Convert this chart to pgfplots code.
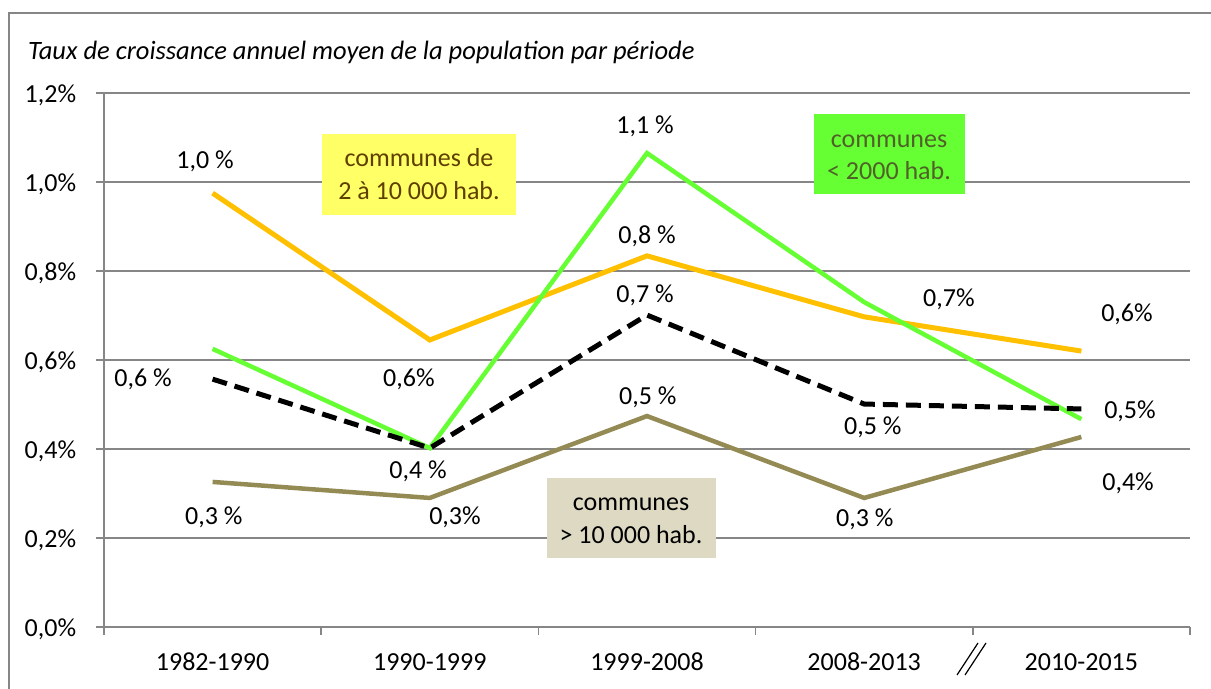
\documentclass[border=0pt]{standalone}
\usepackage{pgfplots}
\pgfplotsset{compat=1.18}
\usepackage{fontspec}
\setmainfont{Carlito}
\definecolor{gridgray}{HTML}{868686}
\definecolor{orangeS}{HTML}{FFC000}
\definecolor{greenS}{HTML}{66FF33}
\definecolor{brownS}{HTML}{948A54}
\definecolor{yellowBox}{HTML}{FFFF66}
\definecolor{beigeBox}{HTML}{DDD9C3}
\definecolor{brownText}{HTML}{5F3F00}
\definecolor{greenText}{HTML}{4F6228}
\begin{document}
\fontsize{26bp}{31bp}\selectfont
\begin{tikzpicture}[x=1bp,y=1bp,font=\fontsize{26bp}{31bp}\selectfont]
\useasboundingbox (0,0) rectangle (1211,689);
\draw[gridgray, line width=1.5bp] (9,-10) -- (9,676) -- (1230,676);
\node[anchor=base west, font=\fontsize{26.5bp}{31bp}\selectfont\itshape, inner sep=0pt] at (28,629) {Taux de croissance annuel moyen de la population par période};
\begin{axis}[
  at={(104bp,62bp)}, anchor=south west,
  scale only axis, width=1086bp, height=534bp,
  xmin=-0.5, xmax=4.5, ymin=0, ymax=1.2,
  clip=false,
  axis x line*=bottom, axis y line*=left,
  axis line style={gridgray, line width=1.5bp, -},
  tick align=outside,
  major tick length=8bp,
  tick style={gridgray, line width=1.5bp},
  ymajorgrids,
  major grid style={gridgray, line width=1.5bp},
  ytick={0,0.2,0.4,0.6,0.8,1.0,1.2},
  yticklabels={{0,0\%},{0,2\%},{0,4\%},{0,6\%},{0,8\%},{1,0\%},{1,2\%}},
  yticklabel style={anchor=base east, xshift=-11bp, yshift=-10bp, font=\fontsize{26bp}{31bp}\selectfont},
  xtick={-0.5,0.5,1.5,2.5,3.5,4.5},
  xticklabel=\empty,
  extra x ticks={0,1,2,3,4},
  extra x tick labels={1982-1990,1990-1999,1999-2008,2008-2013,2010-2015},
  extra x tick style={major tick length=0pt, grid=none},
  xticklabel style={anchor=base, yshift=-44bp, font=\fontsize{26bp}{31bp}\selectfont},
]
% communes > 10 000 hab.
\addplot[brownS, line width=4.5bp] coordinates {(0,0.326) (1,0.290) (2,0.474) (3,0.290) (4,0.427)};
% communes de 2 a 10 000 hab.
\addplot[orangeS, line width=5bp] coordinates {(0,0.975) (1,0.645) (2,0.834) (3,0.697) (4,0.620)};
% communes < 2000 hab.
\addplot[greenS, line width=4.5bp] coordinates {(0,0.625) (1,0.402) (2,1.065) (3,0.730) (4,0.467)};
% ensemble
\addplot[black, line width=5bp, dash pattern=on 15bp off 8bp] coordinates {(0,0.557) (1,0.402) (2,0.701) (3,0.501) (4,0.490)};
% data labels
\node[anchor=base, inner sep=0pt] at (axis cs:-0.035,1.030) {1,0 \%};
\node[anchor=base, inner sep=0pt] at (axis cs:-0.320,0.540) {0,6 \%};
\node[anchor=base, inner sep=0pt] at (axis cs:0.006,0.230) {0,3 \%};
\node[anchor=base, inner sep=0pt] at (axis cs:0.904,0.540) {0,6\%};
\node[anchor=base, inner sep=0pt] at (axis cs:0.946,0.334) {0,4 \%};
\node[anchor=base, inner sep=0pt] at (axis cs:1.116,0.230) {0,3\%};
\node[anchor=base, inner sep=0pt] at (axis cs:1.991,1.110) {1,1 \%};
\node[anchor=base, inner sep=0pt] at (axis cs:2.000,0.861) {0,8 \%};
\node[anchor=base, inner sep=0pt] at (axis cs:1.991,0.730) {0,7 \%};
\node[anchor=base, inner sep=0pt] at (axis cs:2.004,0.500) {0,5 \%};
\node[anchor=base, inner sep=0pt] at (axis cs:3.040,0.433) {0,5 \%};
\node[anchor=base, inner sep=0pt] at (axis cs:3.003,0.226) {0,3 \%};
\node[anchor=base, inner sep=0pt] at (axis cs:3.390,0.720) {0,7\%};
\node[anchor=base, inner sep=0pt] at (axis cs:4.210,0.687) {0,6\%};
\node[anchor=base, inner sep=0pt] at (axis cs:4.224,0.469) {0,5\%};
\node[anchor=base, inner sep=0pt] at (axis cs:4.215,0.307) {0,4\%};
\end{axis}
% category boxes
\fill[yellowBox] (322,474) rectangle (516,555);
\node[anchor=base, inner sep=0pt, text=brownText] at (419,522) {communes de};
\node[anchor=base, inner sep=0pt, text=brownText] at (419,489) {2 à 10 000 hab.};
\fill[greenS] (814,495) rectangle (965,575);
\node[anchor=base, inner sep=0pt, text=greenText] at (889,541) {communes};
\node[anchor=base, inner sep=0pt, text=greenText] at (889,509) {< 2000 hab.};
\fill[beigeBox] (547,131) rectangle (716,211);
\node[anchor=base, inner sep=0pt] at (631,178) {communes};
\node[anchor=base, inner sep=0pt] at (631,145) {> 10 000 hab.};
% axis break mark
\draw[black, line width=1.2bp] (957,14) -- (978,46);
\draw[black, line width=1.2bp] (965,14) -- (986,46);
\end{tikzpicture}
\end{document}
